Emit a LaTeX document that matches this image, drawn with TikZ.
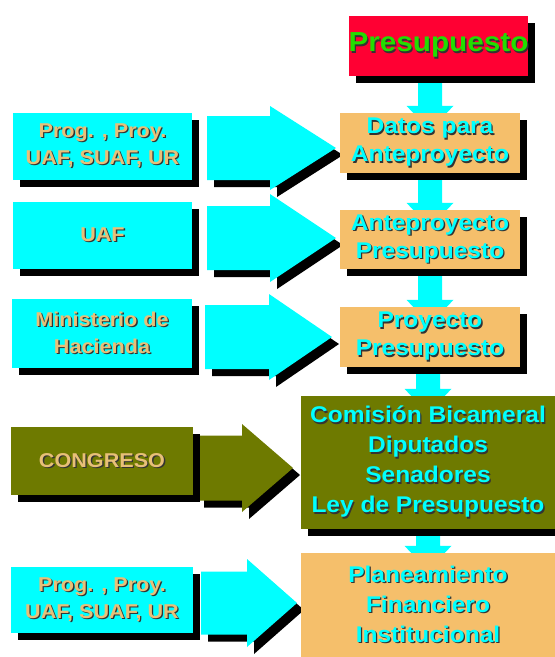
\documentclass[tikz,border=0pt]{standalone}
\usepackage{fontspec}
\setmainfont{Liberation Sans}[FakeStretch=1.08]
\usetikzlibrary{shadows,calc}
\pgfdeclarelayer{bg}
\pgfsetlayers{bg,main}
\definecolor{pred}{HTML}{FF0033}
\definecolor{pgreen}{HTML}{22DD00}
\definecolor{ptan}{HTML}{F5BF6B}
\definecolor{pcyan}{HTML}{00FFFF}
\definecolor{polive}{HTML}{6E7A00}
\definecolor{ltxt}{HTML}{E8C078}
\newcommand\sh[1]{\leavevmode\rlap{\hspace{1.3pt}\raisebox{-1.3pt}{\textcolor{black!80}{#1}}}#1}
\tikzset{
  shd/.style={drop shadow={shadow xshift=7pt, shadow yshift=-7pt, fill=black, opacity=1}},
  box/.style={rectangle, inner sep=0pt, shd, align=center},
  rbox/.style={box, fill=ptan, text=pcyan, font=\bfseries\fontsize{22.7}{28}\selectfont},
  lbox/.style={box, fill=pcyan, text=ltxt, font=\bfseries\fontsize{20}{27}\selectfont},
}
\newcommand\darrow[2]{%
  \fill[pcyan] ($(#2.north |- #1.south)+(-12,0)$) -- ($(#2.north)+(-12,-7)$) -- ($(#2.north)+(-23.5,-7)$)
   -- ($(#2.north)+(0,18)$) -- ($(#2.north)+(23.5,-7)$) -- ($(#2.north)+(12,-7)$)
   -- ($(#2.north |- #1.south)+(12,0)$) -- cycle;}
\newcommand\barrow[7]{%
  \fill[#1, shd] (#2,#5-#6) -- (#3,#5-#6) -- (#3,#5-#7) -- (#4,#5) -- (#3,#5+#7) -- (#3,#5+#6) -- (#2,#5+#6) -- cycle;}
\begin{document}
\begin{tikzpicture}[x=1pt, y=-1pt]
\useasboundingbox (0,0) rectangle (555,657);
% right column
\node[box, fill=pred, text=pgreen, font=\bfseries\fontsize{27.5}{30}\selectfont,
  minimum width=179pt, minimum height=60pt] (pres) at (438.5,46) {\sh{Presupuesto}};
\node[rbox, minimum width=180pt, minimum height=60pt] (datos) at (430,143) {\sh{Datos para}\\\sh{Anteproyecto}};
\node[rbox, minimum width=180pt, minimum height=59pt] (ante) at (430,239.5) {\sh{Anteproyecto}\\\sh{Presupuesto}};
\node[rbox, minimum width=180pt, minimum height=60pt] (proy) at (430,337) {\sh{Proyecto}\\\sh{Presupuesto}};
\node[rbox, fill=polive, font=\bfseries\fontsize{22.7}{30}\selectfont, minimum width=254pt, minimum height=133pt] (comi) at (428,462.5)
  {\sh{Comisión Bicameral}\\\sh{Diputados}\\\sh{Senadores}\\\sh{Ley de Presupuesto}};
\node[rbox, font=\bfseries\fontsize{22.7}{30}\selectfont, minimum width=254pt, minimum height=104pt] (plan) at (428,605)
  {\sh{Planeamiento}\\\sh{Financiero}\\\sh{Institucional}};
% left column
\node[lbox, minimum width=179pt, minimum height=67pt] (l1) at (102.5,146.5) {\sh{Prog. , Proy.}\\\sh{UAF, SUAF, UR}};
\node[lbox, minimum width=179pt, minimum height=67pt] (l2) at (102.5,235.5) {\sh{UAF}};
\node[lbox, minimum width=180pt, minimum height=69pt] (l3) at (102,333.5) {\sh{Ministerio de}\\\sh{Hacienda}};
\node[lbox, fill=polive, minimum width=182pt, minimum height=68pt] (l4) at (102,461) {\sh{CONGRESO}};
\node[lbox, minimum width=182pt, minimum height=66pt] (l5) at (102,600) {\sh{Prog. , Proy.}\\\sh{UAF, SUAF, UR}};
\begin{pgfonlayer}{bg}
  \darrow{pres}{datos}
  \darrow{datos}{ante}
  \darrow{ante}{proy}
  \darrow{proy}{comi}
  \darrow{comi}{plan}
  \barrow{pcyan}{207}{270}{336}{148}{32}{42}
  \barrow{pcyan}{207}{270}{336}{238}{32}{44}
  \barrow{pcyan}{205}{269}{332}{337}{32}{43}
  \barrow{polive}{197}{242}{293}{468}{32.5}{44}
  \barrow{pcyan}{201}{247}{297}{603}{31.5}{44}
\end{pgfonlayer}
\end{tikzpicture}
\end{document}
